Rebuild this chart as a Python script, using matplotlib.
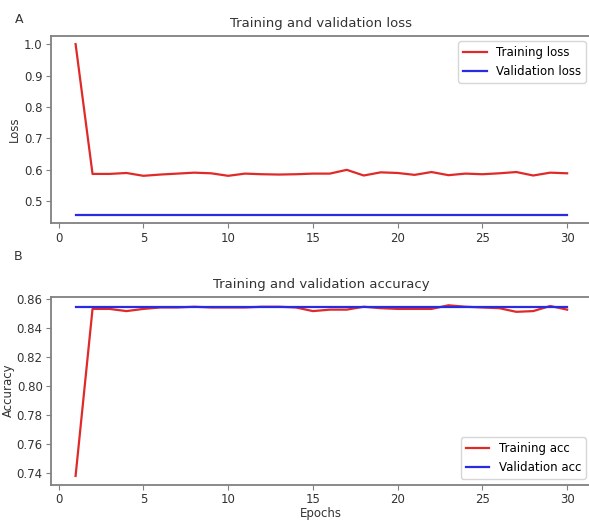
import matplotlib
matplotlib.use("Agg")
import matplotlib.pyplot as plt

plt.rcParams["font.family"] = ["DejaVu Sans"]

epochs = list(range(1, 31))
train_loss = [1.000, 0.587, 0.587, 0.590, 0.581, 0.585, 0.588, 0.591, 0.589, 0.581,
              0.588, 0.586, 0.585, 0.586, 0.588, 0.588, 0.600, 0.582, 0.592, 0.590,
              0.584, 0.593, 0.583, 0.588, 0.586, 0.589, 0.593, 0.582, 0.591, 0.589]
val_loss = [0.457] * 30
train_acc = [0.738, 0.853, 0.853, 0.8515, 0.853, 0.854, 0.854, 0.8545, 0.854, 0.854,
             0.854, 0.8545, 0.8545, 0.854, 0.8515, 0.8525, 0.8525, 0.8545, 0.8535, 0.853,
             0.853, 0.853, 0.8555, 0.8545, 0.854, 0.8535, 0.851, 0.8515, 0.855, 0.8525]
val_acc = [0.854] * 30

RED = "#e02a2a"
BLUE = "#2a2ae0"
SPINE = "#808080"

fig = plt.figure(figsize=(5.89, 5.23), dpi=100)
ax1 = fig.add_axes([0.0866, 0.573, 0.918, 0.359])
ax2 = fig.add_axes([0.0866, 0.0736, 0.918, 0.359])


def style(ax):
    for sp in ax.spines.values():
        sp.set_color(SPINE)
        sp.set_linewidth(1.3)
    ax.tick_params(colors="#333333", labelsize=8.5, color=SPINE, pad=2.5)


ax1.plot(epochs, train_loss, color=RED, lw=1.6, label="Training loss")
ax1.plot(epochs, val_loss, color=BLUE, lw=1.6, label="Validation loss")
ax1.set_title("Training and validation loss", fontsize=9.5, color="#333333")
ax1.set_ylabel("Loss", fontsize=8.5, color="#333333", labelpad=2)
ax1.set_xticks([0, 5, 10, 15, 20, 25, 30])
ax1.legend(loc="upper right", fontsize=8.5)
style(ax1)

ax2.plot(epochs, train_acc, color=RED, lw=1.6, label="Training acc")
ax2.plot(epochs, val_acc, color=BLUE, lw=1.6, label="Validation acc")
ax2.set_title("Training and validation accuracy", fontsize=9.5, color="#333333")
ax2.set_ylabel("Accuracy", fontsize=8.5, color="#333333", labelpad=1)
ax2.set_xlabel("Epochs", fontsize=8.5, color="#333333", labelpad=1)
ax2.set_xticks([0, 5, 10, 15, 20, 25, 30])
ax2.legend(loc="lower right", fontsize=8.5)
style(ax2)

fig.text(0.032, 0.962, "A", fontsize=9, color="#333333", ha="center", va="center")
fig.text(0.030, 0.509, "B", fontsize=9, color="#333333", ha="center", va="center")

fig.savefig("out.png", dpi=100)
